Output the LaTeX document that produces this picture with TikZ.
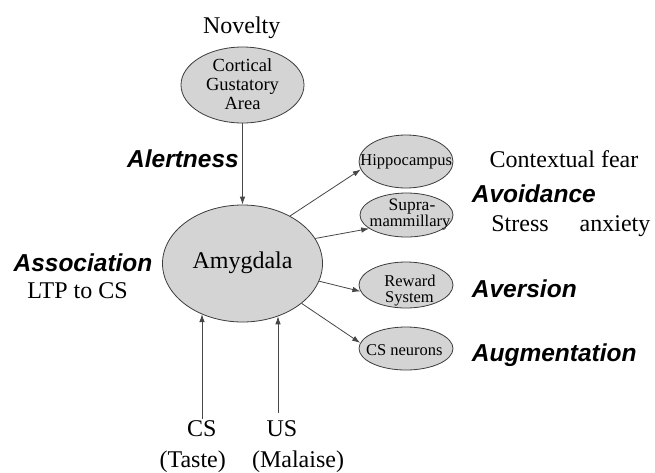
\documentclass[tikz,border=0pt]{standalone}
\usepackage{fontspec}
\setmainfont{Liberation Serif}
\setsansfont{Liberation Sans}
\usetikzlibrary{arrows.meta,shapes.geometric}
\definecolor{ellfill}{RGB}{212,212,212}
\definecolor{ellline}{RGB}{60,60,60}
\definecolor{arrline}{RGB}{70,70,70}
\begin{document}
\begin{tikzpicture}[x=1pt,y=-1pt,
  ell/.style={ellipse,draw=ellline,fill=ellfill,line width=0.8pt,inner sep=0pt},
  serif/.style={font=\fontsize{24}{26}\selectfont,inner sep=0pt,anchor=base},
  effect/.style={font=\fontsize{24.5}{26}\selectfont\sffamily\bfseries\itshape,inner sep=0pt,anchor=base},
  smalltxt/.style={font=\fontsize{16.5}{17}\selectfont,inner sep=0pt,anchor=base},
  cgatxt/.style={font=\fontsize{18.5}{19}\selectfont,inner sep=0pt,anchor=base},
  arr/.style={draw=arrline,line width=0.8pt,-{Latex[length=8pt,width=5.5pt]}}
]
\useasboundingbox (0,0) rectangle (655,472);

% ellipses
\node[ell,minimum width=123pt,minimum height=76pt] (cga) at (242.5,85) {};
\node[ell,minimum width=160pt,minimum height=117pt] (amy) at (242.5,263.5) {};
\node[ell,minimum width=94pt,minimum height=53pt] (hip) at (406,161.5) {};
\node[ell,minimum width=93pt,minimum height=44pt] (sup) at (406.5,215) {};
\node[ell,minimum width=94pt,minimum height=46pt] (rew) at (406,285) {};
\node[ell,minimum width=94pt,minimum height=43pt] (csn) at (406,348.5) {};

% texts inside ellipses
\node[cgatxt] (cga1) at (242.5,71.7) {Cortical};
\node[cgatxt] (cga2) at (242.5,90) {Gustatory};
\node[cgatxt] (cga3) at (242.5,109) {Area};
\node[serif] (amyt) at (242.5,268.5) {Amygdala};
\node[smalltxt] (hipt) at (406.3,165) {Hippocampus};
\node[smalltxt,font=\fontsize{17.5}{18}\selectfont] (sup1) at (412,210.5) {Supra-};
\node[smalltxt] (sup2) at (410,226) {mammillary};
\node[smalltxt] (rew1) at (410,286.7) {Reward};
\node[smalltxt] (rew2) at (409.5,302.3) {System};
\node[smalltxt] (csnt) at (404.3,355) {CS neurons};

% outside texts
\node[serif] (nov) at (241.7,33) {Novelty};
\node[effect,anchor=base east] (alert) at (239,167) {Alertness};
\node[serif] (ctx) at (564,167.7) {Contextual fear};
\node[effect,anchor=base west] (avoid) at (471.7,202.5) {Avoidance};
\node[serif] (stress) at (520,231.7) {Stress};
\node[serif] (anx) at (615,231.7) {anxiety};
\node[effect,anchor=base west] (avers) at (471.7,297.5) {Aversion};
\node[effect,anchor=base west] (augm) at (471.7,361.5) {Augmentation};
\node[effect] (assoc) at (83,271.7) {Association};
\node[serif] (ltp) at (77.5,298.3) {LTP to CS};
\node[serif] (cs) at (201.7,436.7) {CS};
\node[serif] (taste) at (192.7,467) {(Taste)};
\node[serif] (us) at (282,436.7) {US};
\node[serif] (mal) at (298,467) {(Malaise)};

% connectors
\coordinate (csbot) at (202,419);
\coordinate (usbot) at (278,413);
\draw[arr] (cga.south) -- (amy.north);
\draw[arr] (csbot) -- (csbot |- amy.231);
\draw[arr] (usbot) -- (usbot |- amy.304);
\draw[arr] (amy.45.6) -- (hip.190);
\draw[arr] (amy.19) -- (sup.200);
\draw[arr] (amy.-13) -- (rew.188);
\draw[arr] (amy.-34) -- (csn.173);
\end{tikzpicture}
\end{document}
